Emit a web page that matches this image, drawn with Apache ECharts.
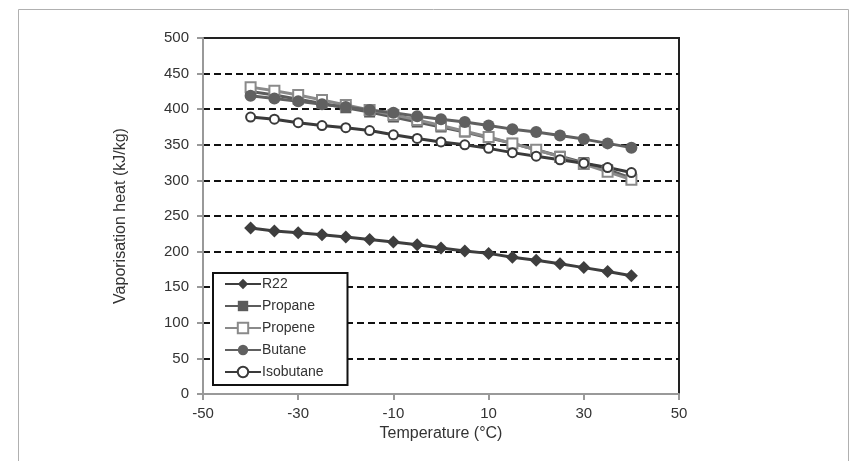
<!DOCTYPE html>
<html><head><meta charset="utf-8">
<script src="https://cdn.jsdelivr.net/npm/echarts@6/dist/echarts.min.js"></script>
<style>html,body{margin:0;padding:0;background:#fff}#c{width:850px;height:461px}</style>
</head><body><div id="c"></div>
<script>
const temperatures = [-40,-35,-30,-25,-20,-15,-10,-5,0,5,10,15,20,25,30,35,40];
const r22 =       [233,229,226.5,223.5,220.5,217,213.5,209.5,205,201,197.5,192,188,183,177.5,172,166];
const propane =   [425,420,414,408,402,396,389,382,375,368,360,352,343,334,325,315,303];
const propene =   [431,426,420,413,406,399,392,385,377,369,361,352,343,333,323,312,301];
const butane =    [419,415,411,407,403,399,395,390,386,382,377,372,368,363,358,352,346];
const isobutane = [389,386,381,377,374,370,364,359,354,350,345,339,334,329,324,318,311];
const xTicks = [-50,-30,-10,10,30,50];
const yTicks = [0,50,100,150,200,250,300,350,400,450,500];

const font = '"Liberation Sans", Arial, sans-serif';
function pairs(vals){ return temperatures.map((t,i)=>[t, vals[i]]); }
function mk(name, vals, color, symbol, size, bw){
  return {
    name, type:'line', data:pairs(vals), symbol, symbolSize:size,
    lineStyle:{color, width:3},
    itemStyle:{color, borderColor:color, borderWidth:bw},
    emphasis:{disabled:true}
  };
}
const chart = echarts.init(document.getElementById('c'), null, {renderer:'canvas'});
chart.setOption({
  animation:false,
  backgroundColor:'#fff',
  graphic:[{type:'rect', shape:{x:18.5,y:9.5,width:830,height:470}, style:{fill:'none', stroke:'#b0b0b0', lineWidth:1}, z:-10}],
  grid:{left:203, right:171, top:38, bottom:67, show:true, borderColor:'#222', borderWidth:2, backgroundColor:'transparent'},
  xAxis:{type:'value', min:-50, max:50, interval:20,
    name:'Temperature (°C)', nameLocation:'middle', nameGap:32,
    nameTextStyle:{fontFamily:font, fontSize:16, color:'#333'},
    axisLine:{show:true, onZero:false, lineStyle:{color:'#999', width:2}},
    axisTick:{show:true, length:6, lineStyle:{color:'#999', width:2}},
    axisLabel:{fontFamily:font, fontSize:15, color:'#333', margin:12},
    splitLine:{show:false}},
  yAxis:{type:'value', min:0, max:500, interval:50,
    name:'Vaporisation heat (kJ/kg)', nameLocation:'middle', nameGap:74,
    nameTextStyle:{fontFamily:font, fontSize:16, color:'#333'},
    axisLine:{show:true, onZero:false, lineStyle:{color:'#999', width:2}},
    axisTick:{show:true, length:6, lineStyle:{color:'#999', width:2}},
    axisLabel:{fontFamily:font, fontSize:15, color:'#333', margin:14},
    splitLine:{show:true, lineStyle:{color:'#111', width:2, type:[7,4]}, showMinLine:false, showMaxLine:false}},
  legend:{orient:'vertical', left:213, top:273,
    backgroundColor:'#fff', borderColor:'#111', borderWidth:2, borderRadius:0,
    padding:[4,24,6,11], itemGap:8, itemWidth:36, itemHeight:13,
    textStyle:{fontFamily:'"Liberation Sans Narrow", "Liberation Sans", Arial, sans-serif', fontSize:14, color:'#333', padding:[0,0,0,-4]},
    data:['R22','Propane','Propene','Butane','Isobutane']},
  series:[
    mk('R22', r22, '#3e3e3e', 'diamond', 13, 0),
    mk('Propane', propane, '#5c5c5c', 'rect', 11, 0),
    mk('Propene', propene, '#8a8a8a', 'emptyRect', 10, 3),
    mk('Butane', butane, '#606060', 'circle', 12, 0),
    mk('Isobutane', isobutane, '#3a3a3a', 'emptyCircle', 9, 3)
  ]
});
</script></body></html>
